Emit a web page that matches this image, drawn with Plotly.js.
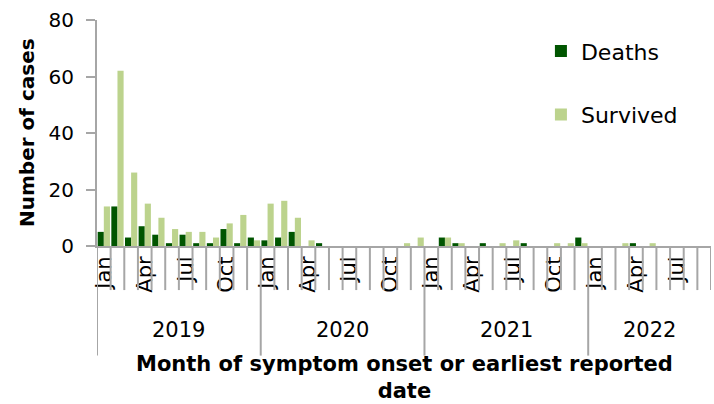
<!DOCTYPE html>
<html>
<head>
<meta charset="utf-8">
<script src="https://cdn.plot.ly/plotly-3.0.1.min.js"></script>
<style>html,body{margin:0;padding:0;background:#fff;}#chart{width:714px;height:404px;}</style>
</head>
<body>
<div id="chart"></div>
<script>
const years = ['2019', '2020', '2021', '2022'];
const monthsPerYear = [12, 12, 12, 9];
const monthNames = ['Jan', 'Feb', 'Mar', 'Apr', 'May', 'Jun', 'Jul', 'Aug', 'Sep', 'Oct', 'Nov', 'Dec'];
const shownMonths = ['Jan', 'Apr', 'Jul', 'Oct'];
const deaths = [5, 14, 3, 7, 4, 1, 4, 1, 1, 6, 1, 3,
                2, 3, 5, 0, 1, 0, 0, 0, 0, 0, 0, 0,
                0, 3, 1, 0, 1, 0, 0, 1, 0, 0, 0, 3,
                0, 0, 0, 1, 0, 0, 0, 0, 0];
const survived = [14, 62, 26, 15, 10, 6, 5, 5, 3, 8, 11, 2,
                  15, 16, 10, 2, 0, 0, 0, 0, 0, 0, 1, 3,
                  0, 3, 1, 0, 0, 1, 2, 0, 0, 1, 1, 1,
                  0, 0, 1, 0, 1, 0, 0, 0, 0];

const FONT = 'DejaVu Sans, sans-serif';
const GRAY = '#a6a6a6';

// month index and labels
const xIdx = [], tickvals = [], ticktext = [];
const yearStarts = [];
let k = 0;
monthsPerYear.forEach((n) => {
  yearStarts.push(k);
  for (let m = 0; m < n; m++) {
    xIdx.push(k);
    if (shownMonths.includes(monthNames[m])) { tickvals.push(k); ticktext.push(monthNames[m]); }
    k++;
  }
});
const total = k;

const shapes = [];
for (let b = 0; b <= total; b++) {
  const isYear = yearStarts.includes(b);
  shapes.push({type: 'line', xref: 'x', yref: 'paper', x0: b - 0.5, x1: b - 0.5,
    y0: 0, y1: isYear ? -0.485 : -0.195, line: {color: GRAY, width: 2}});
}
const annotations = years.map((y, i) => ({
  xref: 'x', yref: 'paper', x: yearStarts[i] + (monthsPerYear[i] - 1) / 2, y: -0.372,
  text: y, showarrow: false, font: {family: FONT, size: 21, color: '#000'},
  xanchor: 'center', yanchor: 'middle'
}));
annotations.push({xref: 'paper', yref: 'paper', x: 0.5, y: -0.705, xanchor: 'center', yanchor: 'bottom',
  text: '<b>Month of symptom onset or earliest reported</b><br><b>date</b>', showarrow: false,
  font: {family: FONT, size: 21, color: '#000'}});
annotations.push({xref: 'paper', yref: 'paper', x: -0.114, y: 0.5, xanchor: 'center', yanchor: 'middle',
  textangle: -90, text: '<b>Number of cases</b>', showarrow: false,
  font: {family: FONT, size: 20, color: '#000'}});

const traces = [
  {type: 'bar', name: 'Deaths', x: xIdx, y: deaths, marker: {color: '#005500'}, legendgroup: 'd'},
  {type: 'bar', name: 'Survived', x: xIdx, y: survived, marker: {color: '#bcd38d'}, legendgroup: 's'}
];

const layout = {
  width: 714, height: 404,
  margin: {l: 97, r: 3, t: 20, b: 158},
  paper_bgcolor: '#fff', plot_bgcolor: '#fff',
  barmode: 'group', bargap: 0.1, bargroupgap: 0,
  font: {family: FONT, color: '#000', size: 20},
  xaxis: {range: [-0.5, total - 0.5], tickvals: tickvals, ticktext: ticktext, tickangle: -90,
    ticks: '', showline: true, linecolor: GRAY, linewidth: 2, showgrid: false, zeroline: false,
    tickfont: {family: FONT, size: 21, color: '#000'}, fixedrange: true},
  yaxis: {range: [0, 80], tickvals: [0, 20, 40, 60, 80], ticks: 'outside', ticklen: 9, tickwidth: 2,
    tickcolor: GRAY, showline: true, linecolor: GRAY, linewidth: 2, showgrid: false, zeroline: false,
    ticklabelstandoff: 8, tickfont: {family: FONT, size: 20, color: '#000'}},
  legend: {x: 0.723, y: 0.955, xanchor: 'left', yanchor: 'top', font: {family: FONT, size: 22},
    tracegroupgap: 32, bgcolor: 'rgba(0,0,0,0)', traceorder: 'grouped'},
  showlegend: true,
  shapes: shapes,
  annotations: annotations
};

Plotly.newPlot('chart', traces, layout, {displayModeBar: false, staticPlot: true});
</script>
</body>
</html>
